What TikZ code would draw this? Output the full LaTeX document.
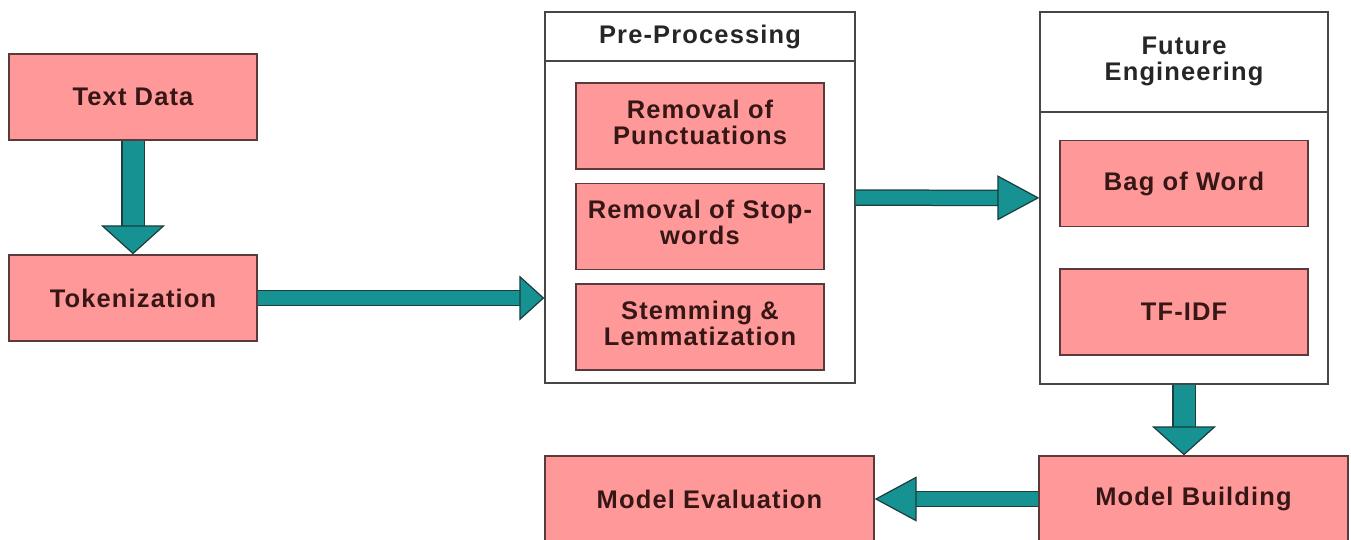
\documentclass[tikz,border=0pt]{standalone}
\usepackage{fontspec}
\setmainfont{Liberation Sans}[LetterSpace=4.5]
\usepackage{tikz}
\usetikzlibrary{arrows.meta}
\usetikzlibrary{positioning}
\definecolor{boxpink}{RGB}{255,153,153}
\definecolor{boxline}{RGB}{90,58,58}
\definecolor{groupline}{RGB}{70,70,70}
\definecolor{flowteal}{RGB}{22,146,146}
\definecolor{flowline}{RGB}{28,62,62}
\definecolor{tasktext}{RGB}{55,22,22}
\tikzset{
    task/.style={
      rectangle,
      draw=boxline, line width=0.8pt,
      fill=boxpink,
      text=tasktext,
      minimum width=4.96cm,
      minimum height=1.72cm,
      inner sep=2pt,
      text centered,
      font=\fontsize{14.5}{15}\selectfont\bfseries,
    },
    group/.style={
      rectangle,
      draw=groupline, line width=0.8pt,
      fill=white,
      inner sep=0pt,
    },
    grouphead/.style={
      group,
      text=black!85,
      text centered,
      font=\fontsize{14.5}{15}\selectfont\bfseries,
    },
    hflow/.style={
      draw=flowteal, line width=0.28cm,
      -{Triangle[length=#1, width=0.9cm, fill=flowteal, color=flowline, line width=0.7pt]},
      preaction={draw=flowline, line width=0.33cm, arrows=-, shorten >=#1-1pt},
    },
    hflow/.default=0.84cm,
    vflow/.style={
      draw=flowteal, line width=0.42cm,
      -{Triangle[length=0.58cm, width=1.28cm, fill=flowteal, color=flowline, line width=0.7pt]},
      preaction={draw=flowline, line width=0.47cm, arrows=-, shorten >=0.56cm},
    },
}
\begin{document}
\begin{tikzpicture}[x=0.02cm, y=-0.02cm]
    \useasboundingbox (0,0) rectangle (1351,539);

    \node[task] (TD) at (133,97) {Text Data};
    \node[task] (TOK) at (133,298) {Tokenization};

    % pre-processing
    \node[group, minimum width=6.2cm, minimum height=7.42cm] (PRE) at (700,197.5) {};
    \node[grouphead, minimum width=6.2cm, minimum height=0.98cm, anchor=north] (PREhead) at (PRE.north) {Pre-Processing};
    \node[task] (RP) at (700,126)
    {
      \begin{tabular}{@{}c@{}}
        Removal of \\
        Punctuations
      \end{tabular}
    };
    \node[task] (RS) at (700,226.5)
    {
      \begin{tabular}{@{}c@{}}
        Removal of Stop- \\
        words
      \end{tabular}
    };
    \node[task] (SL) at (700,327)
    {
      \begin{tabular}{@{}c@{}}
        Stemming \& \\
        Lemmatization
      \end{tabular}
    };

    % future engineering
    \node[group, minimum width=5.76cm, minimum height=7.44cm] (FE) at (1184,198) {};
    \node[grouphead, minimum width=5.76cm, minimum height=2cm, anchor=north] (FEhead) at (FE.north)
    {
      \begin{tabular}{@{}c@{}}
        Future \\
        Engineering
      \end{tabular}
    };
    \node[task] (BOW) at (1184,183.5) {Bag of Word};
    \node[task] (TFIDF) at (1184,312) {TF-IDF};

    \node[task, minimum width=6.58cm] (ME) at (709.5,499) {Model Evaluation};
    \node[task, minimum width=6.18cm] (MB) at (1193.5,499) {Model Building};

    \path

    (TD) edge[vflow] (TOK)

    (TOK.east) edge[hflow=0.5cm] (TOK.east -| PRE.west)

    (PRE) edge[hflow] (FE)

    (FE.south) edge[vflow] (FE.south |- MB.north)

    (MB) edge[hflow] (ME)

    ;
\end{tikzpicture}
\end{document}
